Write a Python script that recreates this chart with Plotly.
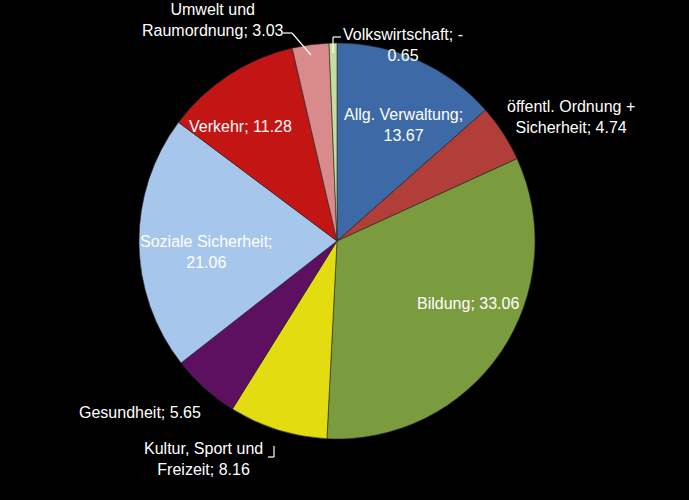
import plotly.graph_objects as go

# Ausgaben nach Aufgabenbereichen (Anteile in %)
categories = ['Allg. Verwaltung', 'öffentl. Ordnung + Sicherheit', 'Bildung',
              'Kultur, Sport und Freizeit', 'Gesundheit', 'Soziale Sicherheit',
              'Verkehr', 'Umwelt und Raumordnung', 'Volkswirtschaft']
values = [13.67, 4.74, 33.06, 8.16, 5.65, 21.06, 11.28, 3.03, -0.65]
label_texts = ['Allg. Verwaltung;<br>13.67', 'öffentl. Ordnung +<br>Sicherheit; 4.74',
               'Bildung; 33.06', 'Kultur, Sport und<br>Freizeit; 8.16', 'Gesundheit; 5.65',
               'Soziale Sicherheit;<br>21.06', 'Verkehr; 11.28',
               'Umwelt und<br>Raumordnung; 3.03', 'Volkswirtschaft; -<br>0.65']
colors = ['#3d6aa6', '#b23e3a', '#7b9c3e', '#e2dc10', '#5e1060',
          '#a7c6ec', '#c41515', '#d98a8a', '#c5dea0']

W, H = 689, 500

fig = go.Figure()
fig.add_trace(go.Pie(
    labels=categories,
    values=[abs(v) for v in values],  # negative slice is drawn by its magnitude
    sort=False,
    direction='clockwise',
    rotation=0,
    marker=dict(colors=colors, line=dict(color='#2a2a2a', width=0.6)),
    textinfo='none',
    hoverinfo='label+value',
    showlegend=False,
    domain=dict(x=[137 / W, 537 / W], y=[1 - 439 / H, 1 - 43 / H]),
))

# label centres in pixels (x, y)
label_pos = [(403, 125), (571, 117), (468, 303), (203, 459), (140, 412),
             (206, 252), (240, 126), (213, 20), (403, 45)]

for txt, (px, py) in zip(label_texts, label_pos):
    fig.add_annotation(x=px / W, y=1 - py / H, xref='paper', yref='paper',
                       xanchor='center', yanchor='middle',
                       text=txt, showarrow=False, align='center',
                       font=dict(family='Liberation Sans, Arial', size=16, color='white'))

# leader lines
leaders = [
    [(283, 33), (292, 33), (311, 55)],
    [(341, 37), (333, 37), (333, 53)],
    [(268, 457), (274, 457), (274, 446)],
]
for pts in leaders:
    for (x0, y0), (x1, y1) in zip(pts[:-1], pts[1:]):
        fig.add_shape(type='line', xref='paper', yref='paper',
                      x0=x0 / W, y0=1 - y0 / H, x1=x1 / W, y1=1 - y1 / H,
                      line=dict(color='white', width=1.2))

fig.update_layout(
    width=W, height=H,
    margin=dict(l=0, r=0, t=0, b=0),
    paper_bgcolor='black',
    plot_bgcolor='black',
)

fig.write_html('out.html', config={'displayModeBar': False},
               post_script="document.body.style.margin='0';document.body.style.background='black';")
